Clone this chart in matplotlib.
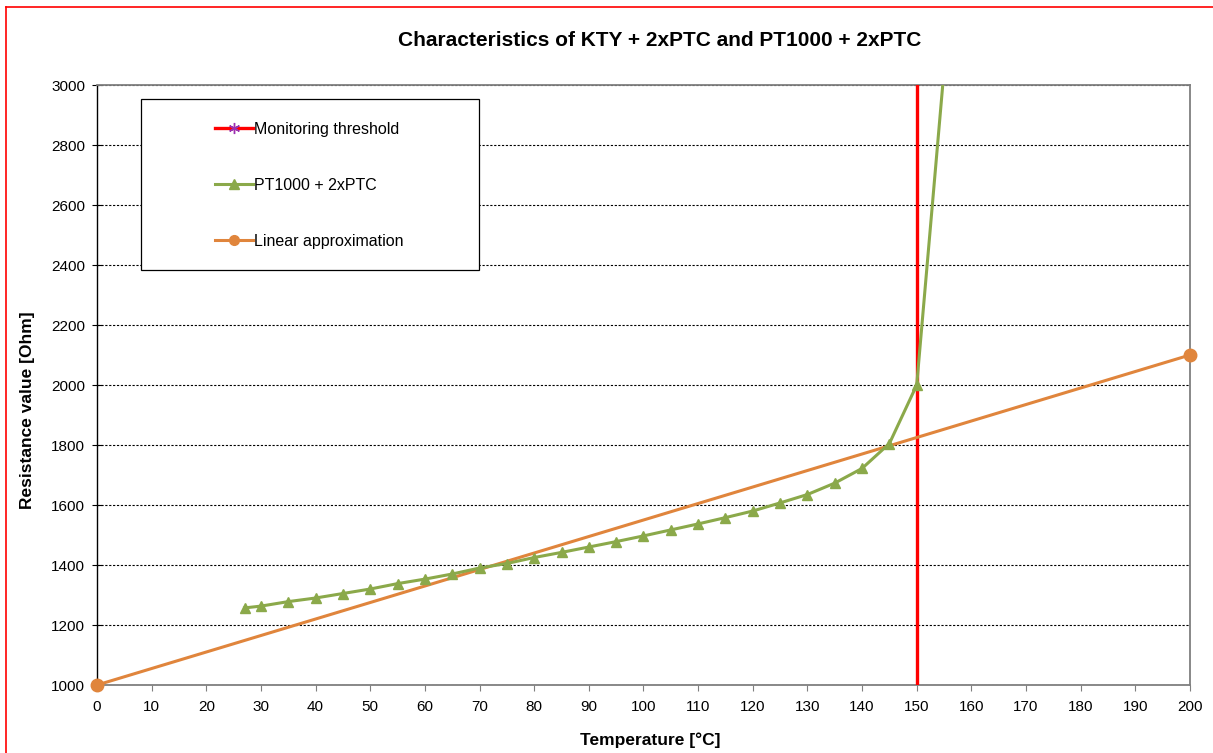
import matplotlib.pyplot as plt
from matplotlib.lines import Line2D
from matplotlib.patches import Rectangle

plt.rcParams['font.family'] = ['Liberation Sans', 'DejaVu Sans']

# === Datos ===
temp_pt = [27, 30, 35, 40, 45, 50, 55, 60, 65, 70, 75, 80, 85, 90, 95, 100,
           105, 110, 115, 120, 125, 130, 135, 140, 145, 150, 155]
res_pt = [1257, 1263, 1278, 1290, 1305, 1320, 1338, 1353, 1370, 1390, 1405,
          1425, 1442, 1460, 1478, 1497, 1517, 1537, 1558, 1580, 1607, 1635,
          1673, 1722, 1805, 2000, 3050]
temp_lin = [0, 200]
res_lin = [1000, 2100]
temp_umbral = [150, 150]
res_umbral = [1000, 3000]

verde = "#8BA94A"
naranja = "#E0853C"
rojo = "#FF0000"
gris = "#7F7F7F"

fig = plt.figure(figsize=(12.13, 7.53), dpi=100)
ax = fig.add_axes([0.08, 0.0903, 0.901, 0.7968])

# === Series ===
ax.plot(temp_umbral, res_umbral, color=rojo, lw=2.4, zorder=3)
ax.plot(temp_lin, res_lin, color=naranja, lw=2.2, marker="o", ms=9,
        clip_on=False, zorder=4)
ax.plot(temp_pt, res_pt, color=verde, lw=2.2, marker="^", ms=7.5, zorder=5)

ax.set_xlim(0, 200)
ax.set_ylim(1000, 3000)
ax.set_xticks(range(0, 201, 10))
ax.set_yticks(range(1000, 3001, 200))
ax.yaxis.grid(True, color="k", ls=(0, (2, 1.5)), lw=0.8)
ax.set_axisbelow(True)

for s in ["top", "right", "bottom"]:
    ax.spines[s].set_color(gris)
    ax.spines[s].set_linewidth(1.3)
ax.spines["left"].set_color("k")
ax.spines["left"].set_linewidth(1.0)
ax.tick_params(axis="x", direction="out", length=4, color=gris, labelsize=11, pad=7)
ax.tick_params(axis="y", direction="inout", length=7, color="k", labelsize=11, pad=5)

# === Leyenda ===
ax.add_patch(Rectangle((0.0403, 0.6917), 0.3092, 0.2853, transform=ax.transAxes,
                       facecolor="white", edgecolor="k", lw=0.9, zorder=6))
handles = [
    Line2D([], [], color=rojo, lw=2.4, marker=(6, 2, 0), ms=8,
           markeredgecolor="#9B30B0", markerfacecolor="#9B30B0"),
    Line2D([], [], color=verde, lw=2.2, marker="^", ms=7),
    Line2D([], [], color=naranja, lw=2.2, marker="o", ms=7),
]
labels = ["Monitoring threshold", "PT1000 + 2xPTC", "Linear approximation"]
leg = ax.legend(handles, labels, loc="upper left", bbox_to_anchor=(0.108, 0.939),
                frameon=False, fontsize=11.5, labelspacing=2.58, handlelength=2.35,
                handletextpad=0.1, borderpad=0, borderaxespad=0)
leg.set_zorder(7)

# === Textos ===
fig.text(0.544, 0.9456, "Characteristics of KTY + 2xPTC and PT1000 + 2xPTC",
         ha="center", va="center", fontsize=15, fontweight="bold")
fig.text(0.536, 0.017, "Temperature [°C]", ha="center", va="center",
         fontsize=12.5, fontweight="bold")
fig.text(0.0225, 0.455, "Resistance value [Ohm]", ha="center", va="center",
         rotation=90, fontsize=12.5, fontweight="bold")

# === Borde rojo ===
fig.add_artist(Line2D([0.005, 0.005], [0, 0.991], color=rojo, lw=1.2))
fig.add_artist(Line2D([0.005, 1], [0.991, 0.991], color=rojo, lw=1.2))

fig.savefig("out.png", dpi=100)
